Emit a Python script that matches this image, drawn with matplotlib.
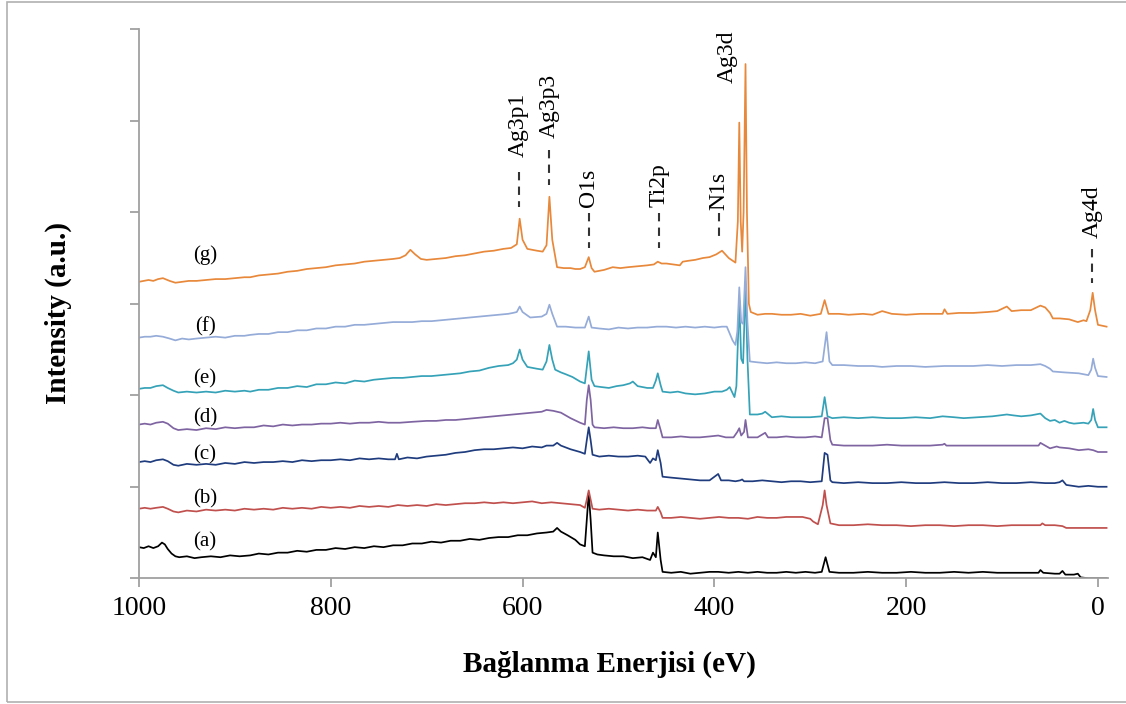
import matplotlib
matplotlib.use("Agg")
import matplotlib.pyplot as plt
from matplotlib.patches import Rectangle

plt.rcParams['font.family'] = ['Liberation Serif', 'DejaVu Serif']

# XPS survey spectra, stacked (energy eV, intensity a.u. incl. offset)
trace_a = [(1000, 0.34), (995, 0.33), (990, 0.35), (985, 0.33), (980, 0.35), (976, 0.39), (973, 0.37),
           (970, 0.32), (966, 0.27), (962, 0.24), (958, 0.23), (950, 0.24), (942, 0.22), (935, 0.23),
           (925, 0.24), (915, 0.23), (905, 0.25), (895, 0.24), (884, 0.25), (875, 0.27), (865, 0.26),
           (855, 0.28), (845, 0.28), (835, 0.30), (825, 0.29), (815, 0.31), (805, 0.31), (795, 0.33),
           (785, 0.32), (775, 0.34), (765, 0.33), (755, 0.35), (745, 0.34), (735, 0.36), (725, 0.36),
           (715, 0.38), (705, 0.38), (695, 0.40), (685, 0.39), (675, 0.41), (665, 0.41), (655, 0.43),
           (645, 0.42), (635, 0.44), (625, 0.45), (615, 0.45), (605, 0.47), (595, 0.47), (585, 0.49),
           (575, 0.50), (568, 0.51), (564, 0.55), (560, 0.51), (553, 0.47), (545, 0.42), (540, 0.37),
           (535, 0.35), (533, 0.64), (531, 0.93), (529, 0.64), (527, 0.28), (522, 0.26), (515, 0.25),
           (505, 0.24), (495, 0.24), (485, 0.22), (475, 0.23), (467, 0.20), (464, 0.28), (461, 0.23),
           (459, 0.50), (456, 0.20), (454, 0.07), (445, 0.06), (435, 0.07), (425, 0.05), (415, 0.06),
           (405, 0.07), (396, 0.07), (385, 0.06), (375, 0.07), (365, 0.06), (355, 0.07), (345, 0.06),
           (335, 0.06), (325, 0.07), (315, 0.06), (305, 0.07), (295, 0.06), (288, 0.07), (284, 0.23),
           (280, 0.07), (270, 0.06), (255, 0.06), (240, 0.07), (225, 0.06), (210, 0.06), (195, 0.07),
           (180, 0.06), (165, 0.06), (150, 0.07), (135, 0.06), (120, 0.07), (105, 0.06), (90, 0.06),
           (75, 0.06), (62, 0.06), (60, 0.09), (57, 0.06), (45, 0.05), (40, 0.05), (37, 0.08),
           (34, 0.04), (25, 0.04), (21, 0.05), (18, 0.01), (10, 0.00), (-9, 0.00)]
trace_b = [(1000, 0.76), (994, 0.77), (988, 0.76), (982, 0.77), (975, 0.78), (970, 0.76), (964, 0.73),
           (959, 0.72), (950, 0.74), (940, 0.73), (930, 0.75), (920, 0.74), (910, 0.75), (900, 0.74),
           (890, 0.76), (880, 0.75), (870, 0.76), (860, 0.75), (850, 0.77), (840, 0.76), (830, 0.77),
           (820, 0.76), (810, 0.78), (800, 0.77), (790, 0.78), (780, 0.77), (770, 0.79), (760, 0.78),
           (750, 0.79), (740, 0.78), (730, 0.80), (720, 0.79), (710, 0.80), (700, 0.79), (690, 0.81),
           (680, 0.80), (670, 0.81), (660, 0.82), (650, 0.82), (640, 0.83), (630, 0.82), (620, 0.83),
           (610, 0.82), (600, 0.83), (590, 0.84), (580, 0.82), (570, 0.83), (560, 0.82), (550, 0.81),
           (540, 0.80), (535, 0.77), (533, 0.86), (531, 0.96), (529, 0.86), (527, 0.76), (520, 0.75),
           (510, 0.76), (500, 0.75), (490, 0.74), (480, 0.75), (470, 0.74), (461, 0.74), (459, 0.78),
           (456, 0.72), (454, 0.66), (445, 0.66), (435, 0.67), (425, 0.66), (415, 0.65), (405, 0.66),
           (395, 0.67), (385, 0.66), (375, 0.66), (365, 0.65), (355, 0.67), (345, 0.66), (335, 0.66),
           (325, 0.67), (315, 0.67), (308, 0.67), (300, 0.65), (297, 0.62), (292, 0.59), (287, 0.80),
           (285, 0.96), (283, 0.80), (279, 0.60), (270, 0.58), (255, 0.58), (240, 0.59), (225, 0.58),
           (210, 0.58), (195, 0.57), (180, 0.58), (165, 0.58), (150, 0.57), (135, 0.58), (120, 0.58),
           (105, 0.57), (90, 0.58), (75, 0.58), (60, 0.58), (58, 0.60), (55, 0.58), (45, 0.58),
           (37, 0.57), (33, 0.55), (20, 0.55), (0, 0.55), (-9, 0.55)]
trace_c = [(1000, 1.27), (994, 1.28), (988, 1.27), (982, 1.29), (975, 1.30), (970, 1.28), (964, 1.24),
           (959, 1.23), (950, 1.25), (940, 1.24), (930, 1.25), (920, 1.24), (910, 1.26), (900, 1.25),
           (890, 1.27), (880, 1.26), (870, 1.27), (860, 1.27), (850, 1.28), (840, 1.27), (830, 1.29),
           (820, 1.28), (810, 1.29), (800, 1.29), (790, 1.30), (780, 1.29), (770, 1.31), (760, 1.30),
           (750, 1.31), (740, 1.30), (733, 1.30), (731, 1.36), (729, 1.30), (720, 1.32), (710, 1.31),
           (700, 1.33), (690, 1.34), (680, 1.35), (670, 1.37), (660, 1.38), (650, 1.40), (640, 1.41),
           (630, 1.41), (620, 1.42), (610, 1.43), (600, 1.42), (590, 1.44), (580, 1.43), (575, 1.45),
           (568, 1.45), (564, 1.48), (560, 1.45), (550, 1.41), (540, 1.38), (535, 1.36), (533, 1.51),
           (531, 1.65), (529, 1.51), (527, 1.35), (520, 1.33), (510, 1.34), (500, 1.33), (490, 1.33),
           (480, 1.34), (472, 1.33), (467, 1.26), (464, 1.31), (461, 1.29), (459, 1.40), (456, 1.26),
           (454, 1.11), (445, 1.10), (435, 1.09), (425, 1.08), (415, 1.07), (405, 1.07), (396, 1.14),
           (393, 1.07), (385, 1.07), (378, 1.06), (373, 1.07), (371, 1.08), (369, 1.06), (360, 1.06),
           (350, 1.07), (340, 1.06), (330, 1.05), (320, 1.06), (310, 1.06), (300, 1.05), (288, 1.06),
           (285, 1.37), (282, 1.35), (279, 1.07), (277, 1.05), (265, 1.04), (250, 1.05), (235, 1.04),
           (220, 1.04), (205, 1.05), (190, 1.04), (175, 1.04), (160, 1.05), (145, 1.04), (130, 1.04),
           (115, 1.05), (100, 1.04), (85, 1.04), (70, 1.05), (55, 1.04), (45, 1.04), (40, 1.05),
           (37, 1.07), (33, 1.02), (20, 1.00), (10, 1.01), (0, 1.00), (-9, 1.00)]
trace_d = [(1000, 1.68), (994, 1.69), (988, 1.68), (982, 1.70), (975, 1.71), (970, 1.69), (964, 1.64),
           (959, 1.62), (950, 1.63), (940, 1.62), (930, 1.64), (920, 1.63), (910, 1.65), (900, 1.64),
           (890, 1.65), (880, 1.65), (870, 1.67), (860, 1.66), (850, 1.68), (840, 1.67), (830, 1.68),
           (820, 1.68), (810, 1.69), (800, 1.69), (790, 1.70), (780, 1.69), (770, 1.70), (760, 1.70),
           (750, 1.71), (740, 1.70), (728, 1.70), (715, 1.71), (700, 1.72), (690, 1.72), (680, 1.73),
           (670, 1.73), (660, 1.74), (650, 1.75), (640, 1.76), (630, 1.77), (620, 1.78), (610, 1.79),
           (600, 1.80), (590, 1.81), (580, 1.82), (575, 1.84), (568, 1.83), (560, 1.81), (550, 1.75),
           (540, 1.70), (535, 1.68), (533, 1.95), (531, 2.11), (529, 1.95), (527, 1.68), (525, 1.65),
           (515, 1.64), (505, 1.65), (495, 1.64), (485, 1.64), (475, 1.65), (467, 1.64), (461, 1.64),
           (459, 1.73), (456, 1.62), (454, 1.54), (445, 1.54), (435, 1.55), (425, 1.54), (415, 1.54),
           (405, 1.55), (396, 1.56), (388, 1.54), (380, 1.54), (376, 1.60), (374, 1.64), (372, 1.56),
           (369, 1.60), (367.5, 1.73), (365, 1.54), (355, 1.54), (347, 1.59), (344, 1.54), (335, 1.54),
           (325, 1.55), (315, 1.54), (305, 1.54), (295, 1.55), (288, 1.54), (285, 1.75), (282, 1.75),
           (279, 1.51), (277, 1.46), (265, 1.45), (250, 1.45), (235, 1.45), (220, 1.46), (205, 1.45),
           (190, 1.45), (175, 1.45), (162, 1.46), (160, 1.47), (158, 1.45), (145, 1.45), (130, 1.45),
           (115, 1.45), (100, 1.45), (85, 1.45), (70, 1.45), (62, 1.45), (60, 1.48), (55, 1.45),
           (50, 1.42), (43, 1.44), (40, 1.43), (30, 1.42), (20, 1.40), (10, 1.41), (5, 1.40),
           (0, 1.38), (-9, 1.38)]
trace_e = [(1000, 2.07), (994, 2.08), (988, 2.08), (982, 2.10), (975, 2.11), (970, 2.08), (964, 2.05),
           (959, 2.03), (950, 2.04), (940, 2.03), (930, 2.04), (920, 2.03), (910, 2.05), (900, 2.04),
           (890, 2.05), (884, 2.04), (875, 2.06), (865, 2.06), (855, 2.08), (845, 2.08), (835, 2.10),
           (825, 2.09), (815, 2.12), (805, 2.12), (795, 2.14), (785, 2.13), (775, 2.16), (765, 2.15),
           (755, 2.17), (745, 2.18), (735, 2.19), (725, 2.19), (715, 2.20), (705, 2.21), (695, 2.21),
           (685, 2.22), (675, 2.23), (665, 2.24), (655, 2.26), (645, 2.27), (635, 2.30), (625, 2.32),
           (615, 2.33), (610, 2.35), (606, 2.39), (603, 2.50), (600, 2.39), (595, 2.31), (585, 2.29),
           (579, 2.28), (575, 2.37), (572, 2.55), (569, 2.39), (566, 2.28), (560, 2.25), (555, 2.23),
           (548, 2.20), (540, 2.15), (535, 2.13), (531, 2.48), (528, 2.17), (525, 2.10), (518, 2.09),
           (510, 2.08), (502, 2.10), (495, 2.11), (488, 2.13), (485, 2.15), (482, 2.12), (480, 2.10),
           (470, 2.08), (464, 2.08), (461, 2.16), (459, 2.24), (456, 2.11), (454, 2.04), (446, 2.03),
           (438, 2.04), (430, 2.02), (420, 2.01), (410, 2.02), (400, 2.04), (392, 2.04), (387, 2.06),
           (384, 2.09), (379, 1.98), (377, 2.10), (374, 3.04), (372, 2.40), (370, 2.35), (367.5, 3.21),
           (365.5, 2.40), (363, 1.79), (355, 1.79), (350, 1.80), (347, 1.82), (340, 1.76), (330, 1.77),
           (320, 1.76), (310, 1.76), (300, 1.76), (288, 1.77), (285, 1.98), (282, 1.77), (277, 1.75),
           (265, 1.76), (250, 1.75), (235, 1.76), (220, 1.75), (205, 1.75), (190, 1.76), (175, 1.75),
           (162, 1.77), (150, 1.76), (140, 1.75), (125, 1.76), (110, 1.77), (95, 1.79), (88, 1.78),
           (80, 1.77), (70, 1.78), (60, 1.80), (55, 1.75), (50, 1.72), (45, 1.73), (40, 1.70),
           (35, 1.72), (30, 1.70), (25, 1.69), (15, 1.70), (10, 1.69), (7, 1.73), (5, 1.85),
           (3, 1.73), (0, 1.65), (-9, 1.65)]
trace_f = [(1000, 2.63), (994, 2.64), (988, 2.64), (982, 2.65), (975, 2.64), (968, 2.62), (962, 2.60),
           (955, 2.62), (948, 2.61), (940, 2.62), (930, 2.63), (920, 2.64), (910, 2.63), (900, 2.65),
           (890, 2.65), (884, 2.66), (875, 2.67), (865, 2.67), (855, 2.69), (845, 2.69), (835, 2.71),
           (825, 2.71), (815, 2.73), (805, 2.73), (795, 2.75), (785, 2.75), (775, 2.77), (765, 2.77),
           (755, 2.78), (745, 2.79), (735, 2.80), (725, 2.80), (715, 2.80), (705, 2.81), (695, 2.81),
           (685, 2.82), (675, 2.83), (665, 2.84), (655, 2.85), (645, 2.86), (635, 2.87), (625, 2.88),
           (615, 2.89), (610, 2.90), (606, 2.91), (603, 2.97), (600, 2.91), (592, 2.85), (580, 2.86),
           (575, 2.89), (572, 2.99), (569, 2.89), (564, 2.75), (555, 2.75), (545, 2.74), (535, 2.74),
           (531, 2.86), (528, 2.74), (520, 2.73), (510, 2.72), (500, 2.74), (490, 2.73), (480, 2.74),
           (470, 2.74), (460, 2.75), (450, 2.75), (440, 2.74), (430, 2.75), (420, 2.74), (410, 2.75),
           (400, 2.74), (392, 2.75), (387, 2.75), (381, 2.60), (378, 2.55), (376, 2.70), (374, 3.18),
           (372, 2.80), (370, 2.78), (367.5, 3.40), (365.5, 2.80), (363, 2.37), (355, 2.36),
           (345, 2.35), (335, 2.36), (325, 2.35), (315, 2.35), (305, 2.36), (295, 2.35), (287, 2.37),
           (283, 2.69), (280, 2.37), (277, 2.33), (265, 2.33), (250, 2.32), (235, 2.32), (225, 2.31),
           (210, 2.32), (195, 2.32), (180, 2.31), (160, 2.32), (145, 2.32), (130, 2.32), (115, 2.33),
           (100, 2.32), (85, 2.33), (70, 2.33), (60, 2.34), (55, 2.32), (50, 2.29), (47, 2.26),
           (35, 2.25), (20, 2.24), (10, 2.22), (7, 2.28), (5, 2.40), (3, 2.30), (0, 2.21), (-9, 2.20)]
trace_g = [(1000, 3.24), (995, 3.25), (990, 3.26), (985, 3.25), (980, 3.27), (975, 3.28), (968, 3.25),
           (962, 3.23), (955, 3.24), (948, 3.25), (940, 3.25), (930, 3.26), (920, 3.27), (910, 3.27),
           (900, 3.28), (890, 3.29), (884, 3.29), (875, 3.31), (865, 3.32), (855, 3.33), (845, 3.35),
           (835, 3.36), (825, 3.38), (815, 3.39), (805, 3.40), (795, 3.42), (785, 3.43), (775, 3.44),
           (765, 3.46), (755, 3.47), (745, 3.48), (735, 3.49), (728, 3.50), (722, 3.53), (717, 3.59),
           (712, 3.54), (706, 3.49), (700, 3.48), (690, 3.49), (680, 3.50), (670, 3.52), (660, 3.53),
           (650, 3.55), (640, 3.57), (630, 3.58), (620, 3.60), (612, 3.61), (606, 3.65), (603, 3.93),
           (600, 3.70), (595, 3.60), (585, 3.58), (579, 3.57), (575, 3.64), (572, 4.17), (569, 3.70),
           (564, 3.40), (557, 3.39), (550, 3.39), (545, 3.38), (540, 3.38), (535, 3.40), (531, 3.51),
           (528, 3.39), (525, 3.35), (520, 3.36), (515, 3.37), (506, 3.40), (498, 3.39), (490, 3.40),
           (480, 3.41), (470, 3.42), (463, 3.43), (459, 3.46), (455, 3.44), (450, 3.44), (443, 3.43),
           (436, 3.42), (433, 3.46), (427, 3.47), (420, 3.48), (412, 3.50), (405, 3.51), (398, 3.54),
           (392, 3.58), (385, 3.50), (378, 3.45), (375.5, 3.90), (374, 4.98), (372.5, 3.90),
           (371, 3.57), (369.5, 4.00), (367.5, 5.62), (366, 4.00), (364, 3.00), (362, 2.91),
           (355, 2.88), (347, 2.89), (340, 2.89), (330, 2.88), (320, 2.88), (310, 2.89), (300, 2.87),
           (289, 2.89), (285, 3.04), (281, 2.89), (270, 2.89), (260, 2.88), (245, 2.89), (235, 2.88),
           (225, 2.92), (215, 2.89), (200, 2.88), (185, 2.89), (172, 2.89), (162, 2.89), (160, 2.94),
           (157, 2.89), (145, 2.90), (130, 2.90), (115, 2.91), (105, 2.92), (95, 2.97), (90, 2.92),
           (80, 2.93), (70, 2.93), (60, 2.98), (55, 2.96), (50, 2.90), (47, 2.84), (40, 2.84),
           (30, 2.83), (21, 2.80), (15, 2.82), (12, 2.81), (8, 2.93), (5.5, 3.12), (3, 2.93),
           (0, 2.77), (-9, 2.75)]

traces = [trace_a, trace_b, trace_c, trace_d, trace_e, trace_f, trace_g]
names = ['(a)', '(b)', '(c)', '(d)', '(e)', '(f)', '(g)']
colors = ['#000000', '#C0504D', '#1F3C7E', '#7F64A2', '#35A2B8', '#95ABD8', '#E8883A']
name_y = [0.40, 0.87, 1.35, 1.75, 2.18, 2.75, 3.53]

# peak labels: name, energy, text bottom, dash from, dash to
peaks = [('Ag3p1', 604, 4.60, 4.44, 4.06),
         ('Ag3p3', 572.5, 4.81, 4.68, 4.30),
         ('O1s', 531, 4.06, 3.99, 3.61),
         ('Ti2p', 458, 4.06, 3.99, 3.61),
         ('N1s', 395, 4.03, 3.99, 3.67),
         ('Ag3d', 387, 5.41, None, None),
         ('Ag4d', 6.3, 3.72, 3.60, 3.23)]

fig = plt.figure(figsize=(11.26, 7.04), dpi=100)
ax = fig.add_axes([0.1234, 0.1786, 0.8602, 0.7798])

for tr, c in zip(traces, colors):
    ev = [p[0] for p in tr]
    inten = [p[1] for p in tr]
    ax.plot(ev, inten, color=c, lw=1.25)

for n, y in zip(names, name_y):
    ax.text(931, y, n, fontsize=15, ha='center', va='center')

for lab, ev, ty, d0, d1 in peaks:
    ax.text(ev, ty, lab, fontsize=17, rotation=90, ha='center', va='bottom', clip_on=False)
    if d0 is not None:
        ax.plot([ev, ev], [d0, d1], color='#333333', lw=1.5, ls=(0, (4, 3)))

ax.set_xlim(1000, -10)
ax.set_ylim(0, 6)
ax.set_xticks([1000, 800, 600, 400, 200, 0])
ax.set_yticks([0, 1, 2, 3, 4, 5, 6])
ax.set_yticklabels([])
for s in ['top', 'right']:
    ax.spines[s].set_visible(False)
for s in ['left', 'bottom']:
    ax.spines[s].set_color('#a0a0a0')
    ax.spines[s].set_linewidth(1.3)
ax.tick_params(axis='both', color='#a0a0a0', width=1.3, length=6.5, labelsize=20, pad=6)

ax.set_xlabel('Bağlanma Enerjisi (eV)', fontsize=21, fontweight='bold', va='center')
ax.xaxis.set_label_coords(0.486, -0.156)
ax.set_ylabel('Intensity (a.u.)', fontsize=21, fontweight='bold', va='center')
ax.yaxis.set_label_coords(-0.083, 0.483)

fig.add_artist(Rectangle((0.0062, 0.003), 1.2, 0.994, transform=fig.transFigure,
                         fill=False, edgecolor='#b0b0b0', lw=1.2))

fig.savefig('out.png', dpi=100)
